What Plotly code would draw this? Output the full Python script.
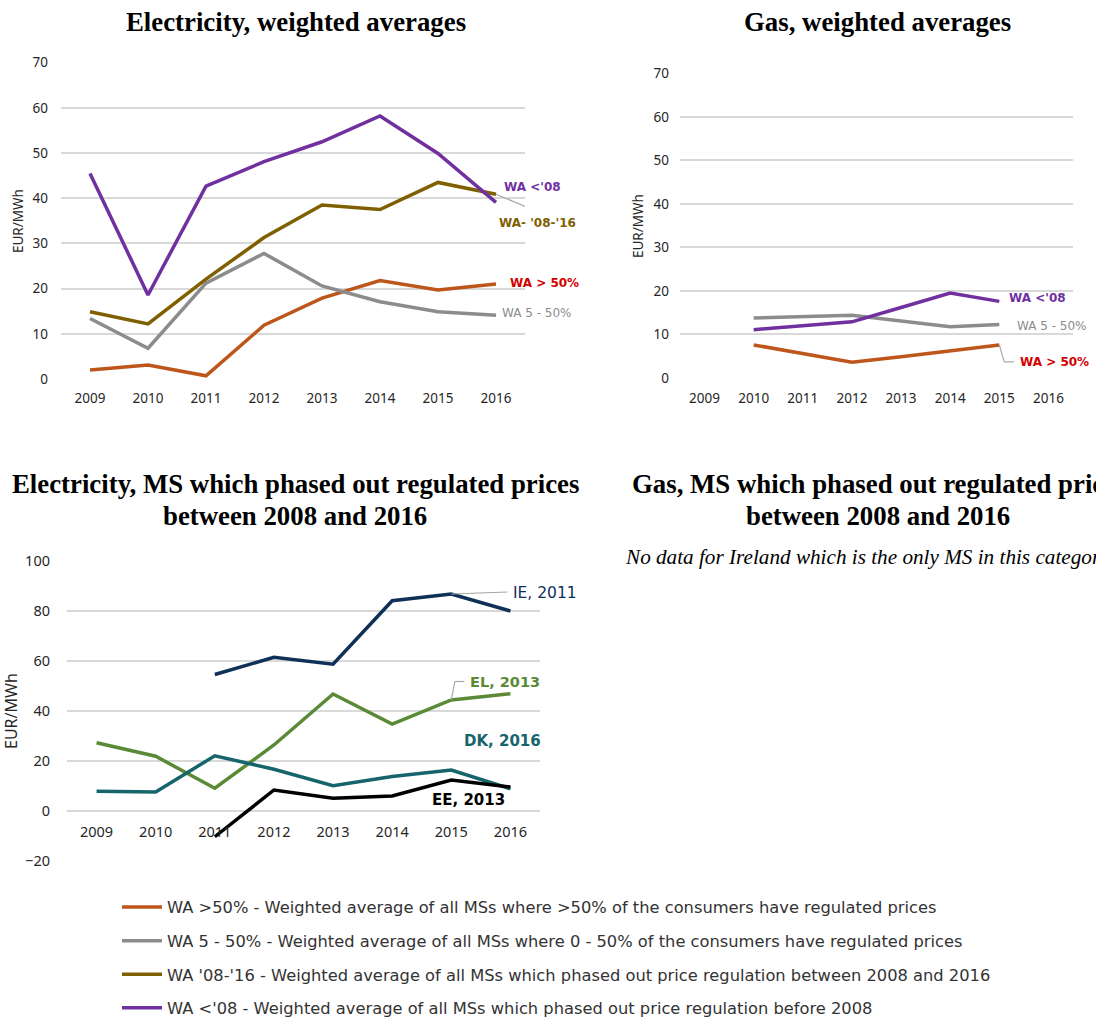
import plotly.graph_objects as go

W, H = 1096, 1023

years = ["2009", "2010", "2011", "2012", "2013", "2014", "2015", "2016"]

# Electricity, weighted averages
el_wa_gt50 = [2.0, 3.1, 0.7, 11.9, 17.9, 21.8, 19.7, 21.0]
el_wa_5_50 = [13.4, 6.8, 21.2, 27.8, 20.6, 17.1, 14.9, 14.1]
el_wa_08_16 = [14.9, 12.2, 22.1, 31.3, 38.5, 37.5, 43.5, 40.9]
el_wa_lt08 = [45.5, 18.6, 42.7, 48.1, 52.5, 58.2, 49.9, 39.1]

# Gas, weighted averages
gas_wa_gt50 = [None, 7.6, 5.6, 3.6, 4.9, 6.3, 7.6, None]
gas_wa_5_50 = [None, 13.8, 14.1, 14.4, 13.1, 11.8, 12.3, None]
gas_wa_lt08 = [None, 11.1, 12.0, 12.9, 16.2, 19.5, 17.6, None]

# Electricity, MS which phased out regulated prices 2008-2016
ms_ie = [None, None, 54.6, 61.5, 58.7, 84.1, 86.8, 80.0]
ms_el = [27.3, 21.9, 9.1, 26.4, 46.8, 34.8, 44.4, 46.9]
ms_dk = [7.9, 7.6, 22.1, 16.7, 10.1, 13.8, 16.4, 8.9]
ms_ee = [None, None, -10.3, 8.4, 5.1, 6.0, 12.4, 9.6]

legend_names = [
    "WA >50% - Weighted average of all MSs where >50% of the consumers have regulated prices",
    "WA 5 - 50% - Weighted average of all MSs where 0 - 50% of the consumers have regulated prices",
    "WA '08-'16 - Weighted average of all MSs which phased out price regulation between 2008 and 2016",
    "WA <'08 - Weighted average of all MSs which phased out price regulation before 2008",
]

C_ORANGE = "#BE561C"
C_GRAY = "#8C8C8C"
C_OLIVE = "#7F6000"
C_PURPLE = "#7030A0"
C_RED = "#D40000"
C_NAVY = "#0F3158"
C_GREEN = "#5A8A36"
C_TEAL = "#16646C"
C_BLACK = "#000000"
GRID = "#D9D9D9"
LEAD = "#A6A6A6"


def px_x(p):
    return p / W


def px_y(p):
    return 1 - p / H


fig = go.Figure()

LW = 3.5
# Top-left: electricity WA
for vals, col, name, grp in [
    (el_wa_gt50, C_ORANGE, legend_names[0], "g1"),
    (el_wa_5_50, C_GRAY, legend_names[1], "g2"),
    (el_wa_08_16, C_OLIVE, legend_names[2], "g3"),
    (el_wa_lt08, C_PURPLE, legend_names[3], "g4"),
]:
    fig.add_trace(go.Scatter(x=years, y=vals, mode="lines", name=name, legendgroup=grp,
                             line=dict(color=col, width=LW), xaxis="x", yaxis="y",
                             showlegend=True))

# Top-right: gas WA
for vals, col in [(gas_wa_gt50, C_ORANGE), (gas_wa_5_50, C_GRAY), (gas_wa_lt08, C_PURPLE)]:
    fig.add_trace(go.Scatter(x=years, y=vals, mode="lines", showlegend=False,
                             line=dict(color=col, width=LW), xaxis="x2", yaxis="y2"))

# Bottom-left: MS
for vals, col in [(ms_ie, C_NAVY), (ms_el, C_GREEN), (ms_dk, C_TEAL), (ms_ee, C_BLACK)]:
    fig.add_trace(go.Scatter(x=years, y=vals, mode="lines", showlegend=False,
                             line=dict(color=col, width=LW), xaxis="x3", yaxis="y3"))

tickfont_s = dict(family="Noto Sans", size=13.5, color="#262626")
tickfont_l = dict(family="Noto Sans", size=14.5, color="#262626")

common_x = dict(type="category", range=[-0.5, 7.5], showgrid=False, zeroline=False,
                showline=False, ticks="", fixedrange=True, automargin=False)
common_y = dict(showgrid=True, gridcolor=GRID, gridwidth=1.5, zeroline=False,
                showline=False, ticks="", fixedrange=True, automargin=False)

fig.update_layout(
    width=W, height=H,
    margin=dict(l=0, r=0, t=0, b=0, pad=0, autoexpand=False),
    paper_bgcolor="white", plot_bgcolor="white",
    xaxis=dict(common_x, domain=[px_x(61), px_x(525)], anchor="y",
               tickfont=tickfont_s, ticklabelstandoff=9),
    yaxis=dict(common_y, domain=[px_y(379), px_y(62.7)], anchor="x", range=[0, 70],
               dtick=10, tickfont=tickfont_s, ticklabelstandoff=12),
    xaxis2=dict(common_x, domain=[px_x(680), px_x(1073)], anchor="y2",
                tickfont=tickfont_s, ticklabelstandoff=10),
    yaxis2=dict(common_y, domain=[px_y(378), px_y(73.3)], anchor="x2", range=[0, 70],
                dtick=10, tickfont=tickfont_s, ticklabelstandoff=10),
    xaxis3=dict(common_x, domain=[px_x(67), px_x(540)], anchor="free",
                position=px_y(811), tickfont=tickfont_l, ticklabelstandoff=10),
    yaxis3=dict(common_y, domain=[px_y(861), px_y(561)], anchor="x3", range=[-20, 100],
                dtick=20, tickfont=tickfont_l, ticklabelstandoff=16),
    legend=dict(x=px_x(117), y=px_y(890), xanchor="left", yanchor="top",
                font=dict(family="DejaVu Sans", size=16.3, color="#333333"),
                bgcolor="rgba(0,0,0,0)", itemwidth=40, tracegroupgap=9.4,
                traceorder="grouped"),
    showlegend=True,
)

ann = []
title_font = dict(family="Liberation Serif", size=26.8, color="black")


def title(text, xc, yc, anchor="center"):
    ann.append(dict(text="<b>" + text + "</b>", x=px_x(xc), y=px_y(yc), xref="paper", yref="paper",
                    xanchor=anchor, yanchor="middle", showarrow=False, font=title_font))


title("Electricity, weighted averages", 296, 22)
title("Gas, weighted averages", 877, 22)
title("Electricity, MS which phased out regulated prices", 295, 484)
title("between 2008 and 2016", 295, 516)
title("Gas, MS which phased out regulated prices", 630, 484, anchor="left")
title("between 2008 and 2016", 878, 516)
ann.append(dict(text="<i>No data for Ireland which is the only MS in this category</i>",
                x=px_x(623), y=px_y(557), xref="paper", yref="paper", xanchor="left",
                yanchor="middle", showarrow=False,
                font=dict(family="Liberation Serif", size=21.2, color="black")))

# y-axis titles
for xc, yc, sz in [(18, 221, 13.5), (638, 226, 13.5), (11, 711, 16)]:
    ann.append(dict(text="EUR/MWh", x=px_x(xc), y=px_y(yc), xref="paper", yref="paper",
                    xanchor="center", yanchor="middle", textangle=-90, showarrow=False,
                    font=dict(family="Noto Sans", size=sz, color="#262626")))


def lab(text, x, y, col, xr, yr, size=12, bold=True):
    t = "<b>" + text + "</b>" if bold else text
    ann.append(dict(text=t, x=x, y=y, xref=xr, yref=yr, xanchor="left", yanchor="middle",
                    showarrow=False, font=dict(family="DejaVu Sans", size=size, color=col)))


lab("WA <'08", 7.10, 42.6, C_PURPLE, "x", "y")
lab("WA- '08-'16", 7.02, 34.5, C_OLIVE, "x", "y")
lab("WA > 50%", 7.21, 21.2, C_RED, "x", "y")
lab("WA 5 - 50%", 7.07, 14.6, C_GRAY, "x", "y", bold=False)

lab("WA <'08", 6.16, 18.3, C_PURPLE, "x2", "y2")
lab("WA 5 - 50%", 6.32, 11.9, C_GRAY, "x2", "y2", bold=False)
lab("WA > 50%", 6.38, 3.7, C_RED, "x2", "y2")

lab("IE, 2011", 7.01, 87.2, C_NAVY, "x3", "y3", size=15.5, bold=False)
lab("EL, 2013", 6.28, 51.8, C_GREEN, "x3", "y3", size=14.5)
lab("DK, 2016", 6.18, 28.0, C_TEAL, "x3", "y3", size=15)
lab("EE, 2013", 5.64, 4.4, C_BLACK, "x3", "y3", size=15)

fig.update_layout(annotations=ann)

# leader lines
shapes = []


def seg(x0, y0, x1, y1, xr, yr):
    shapes.append(dict(type="line", x0=x0, y0=y0, x1=x1, y1=y1, xref=xr, yref=yr,
                       line=dict(color=LEAD, width=1.2)))


seg(7, el_wa_08_16[7], 7.72, 37.0, "x", "y")
seg(6, gas_wa_gt50[6], 6.1, 3.7, "x2", "y2")
seg(6.1, 3.7, 6.3, 3.7, "x2", "y2")
seg(6, ms_ie[6], 6.95, 87.6, "x3", "y3")
seg(6, ms_el[6], 6.06, 51.8, "x3", "y3")
seg(6.06, 51.8, 6.22, 51.8, "x3", "y3")
fig.update_layout(shapes=shapes)

fig.write_html("out.html", config={"displayModeBar": False},
               post_script="document.body.style.margin='0';")
